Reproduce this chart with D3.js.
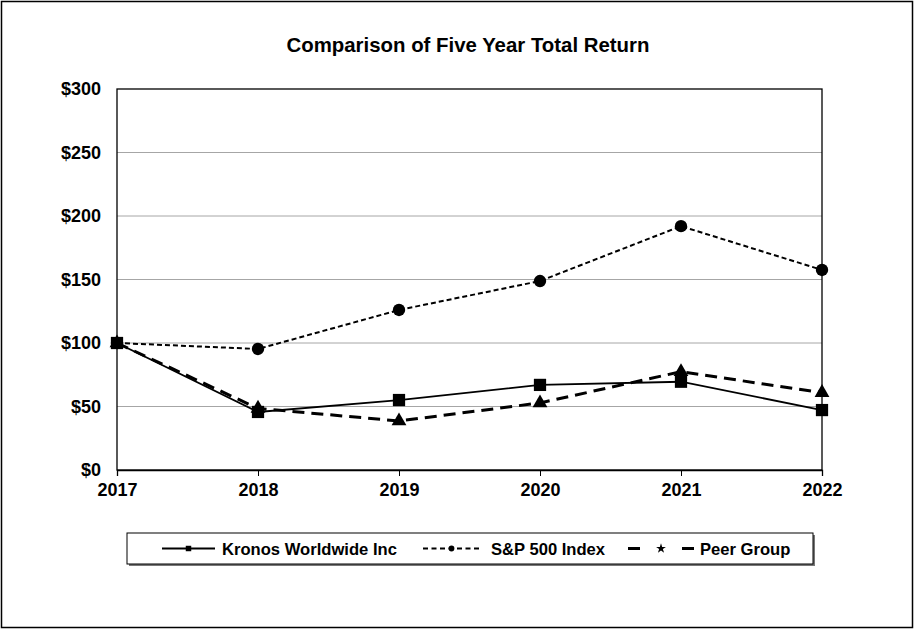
<!DOCTYPE html>
<html><head><meta charset="utf-8">
<script src="https://cdn.jsdelivr.net/npm/d3@7"></script>
<style>body{margin:0;background:#fff;}svg{display:block;font-family:"Liberation Sans",Arial,sans-serif;}</style>
</head><body>
<script>
const years = ["2017","2018","2019","2020","2021","2022"];
const kronos = [100, 45.7, 55.1, 67, 69.5, 47.2];
const sp500 = [100, 95.3, 126, 148.8, 192, 157.5];
const peer = [100, 48.5, 38.6, 52.8, 77.4, 60.9];
const yTicks = [0, 50, 100, 150, 200, 250, 300];
const seriesNames = ["Kronos Worldwide Inc", "S&P 500 Index", "Peer Group"];

const W = 915, H = 630;
const svg = d3.select("body").append("svg").attr("width", W).attr("height", H);
svg.append("rect").attr("x",1.5).attr("y",1.5).attr("width",W-4).attr("height",H-4)
  .attr("fill","#fff").attr("stroke","#000").attr("stroke-width",1.5);

const L = 117, R = 822, T = 89, B = 470;
const x = d3.scalePoint().domain(years).range([L, R]);
const y = d3.scaleLinear().domain([0, 300]).range([B, T]);

svg.append("text").attr("x", 468).attr("y", 52).attr("text-anchor","middle")
  .attr("font-size", 20.4).attr("font-weight","bold").text("Comparison of Five Year Total Return");

// gridlines
svg.append("g").selectAll("line").data(yTicks.filter(d=>d>0 && d<300)).join("line")
  .attr("x1", L).attr("x2", R).attr("y1", d=>y(d)).attr("y2", d=>y(d))
  .attr("stroke","#a6a6a6").attr("stroke-width",1);
// plot border
svg.append("rect").attr("x",L).attr("y",T).attr("width",R-L).attr("height",B-T)
  .attr("fill","none").attr("stroke","#000").attr("stroke-width",1.3);

const yAxis = svg.append("g").attr("transform",`translate(${L},0)`)
  .call(d3.axisLeft(y).tickValues(yTicks).tickFormat(d=>"$"+d).tickSize(0).tickPadding(16));
yAxis.select(".domain").remove();
yAxis.selectAll("text").attr("font-size",18).attr("font-weight","bold").attr("fill","#000")
  .attr("font-family","Liberation Sans, Arial, sans-serif");

const xAxis = svg.append("g").attr("transform",`translate(0,${B})`)
  .call(d3.axisBottom(x).tickSize(6).tickPadding(7));
xAxis.select(".domain").attr("stroke","#000").attr("stroke-width",1.3);
xAxis.selectAll("line").attr("stroke","#000");
xAxis.selectAll("text").attr("font-size",18).attr("font-weight","bold").attr("fill","#000")
  .attr("font-family","Liberation Sans, Arial, sans-serif");

const line = d3.line().x((d,i)=>x(years[i])).y(d=>y(d));

const styles = [
  {data: kronos, dash: null, width: 1.8, sym: d3.symbolSquare, size: 150, lsize: 30},
  {data: sp500, dash: "5,3", width: 2, sym: d3.symbolCircle, size: 120, lsize: 26},
  {data: peer, dash: "12,7", width: 3, sym: d3.symbolTriangle, size: 95, lsize: 30}
];
[2,1,0].forEach(k => {
  const s = styles[k];
  svg.append("path").datum(s.data).attr("d", line).attr("fill","none")
    .attr("stroke","#000").attr("stroke-width", s.width)
    .attr("stroke-dasharray", s.dash);
});
[2,1,0].forEach(k => {
  const s = styles[k];
  svg.append("g").selectAll("path").data(s.data).join("path")
    .attr("transform",(d,i)=>`translate(${x(years[i])},${y(d)})`)
    .attr("d", d3.symbol().type(s.sym).size(s.size)).attr("fill","#000");
});

// legend
const lg = svg.append("g");
lg.append("rect").attr("x",129).attr("y",535).attr("width",686).attr("height",31).attr("fill","#777");
lg.append("rect").attr("x",127).attr("y",533).attr("width",686).attr("height",31)
  .attr("fill","#fff").attr("stroke","#000").attr("stroke-width",1);
const legendX = [162, 423, 628];
const legendX1 = [215, 480, 694];
const textX = [222, 491, 700];
const legendSym = [d3.symbolSquare, d3.symbolCircle, d3.symbolStar];
seriesNames.forEach((n,k) => {
  const s = styles[k];
  const cy = 548.5;
  const x0 = legendX[k], x1 = legendX1[k];
  lg.append("line").attr("x1",x0).attr("x2",x1).attr("y1",cy).attr("y2",cy)
    .attr("stroke","#000").attr("stroke-width", k===2 ? 3 : 1.8)
    .attr("stroke-dasharray", k===1 ? "5,3.5" : (k===2 ? "12,42" : null));
  lg.append("path").attr("transform",`translate(${(x0+x1)/2},${cy})`)
    .attr("d", d3.symbol().type(legendSym[k]).size(s.lsize)).attr("fill","#000");
  lg.append("text").attr("x", textX[k]).attr("y", cy+6).attr("font-size",16.6)
    .attr("font-weight","bold").text(n);
});
</script>
</body></html>
